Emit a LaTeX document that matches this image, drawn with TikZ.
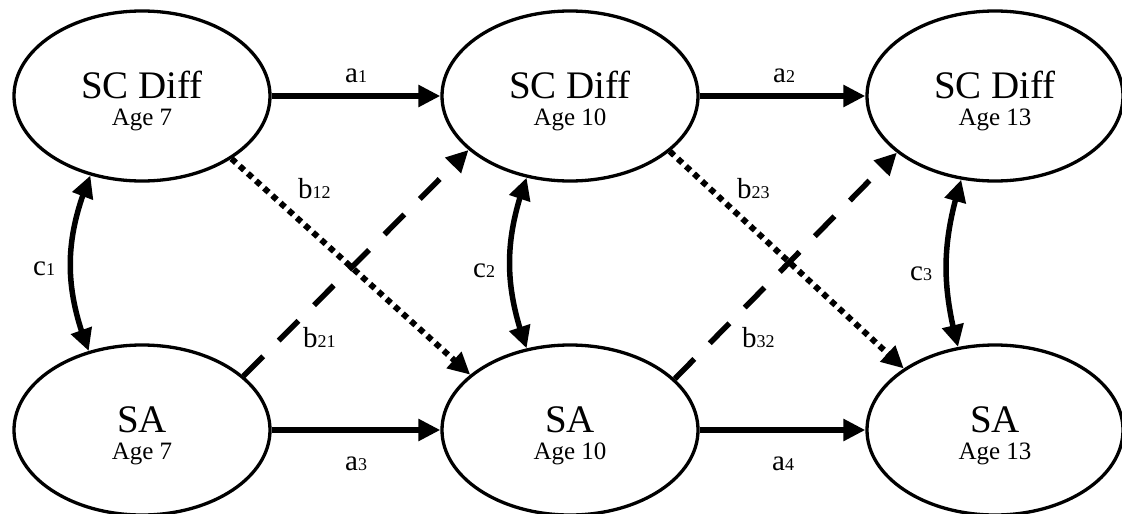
\documentclass[tikz,border=0pt]{standalone}
\usepackage{fontspec}
\setmainfont{Liberation Serif}
\usetikzlibrary{shapes.geometric,arrows.meta,bending}
\newcommand\lab[2]{{\fontsize{29}{29}\selectfont #1}{\fontsize{18}{18}\selectfont #2}}
\newcommand\vtext[2]{\fontsize{39}{39}\selectfont\rule{0pt}{37pt}#1\\[9pt]\fontsize{25}{25}\selectfont #2}
\begin{document}
\begin{tikzpicture}[x=1pt,y=-1pt,
  var/.style={ellipse,draw,line width=3.3pt,minimum width=256pt,minimum height=170pt,inner sep=0pt,align=center},
  solidarr/.style={-{Triangle[length=22pt,width=21pt]},line width=5.5pt},
  dotarr/.style={solidarr,line width=6pt,dash pattern=on 6pt off 5pt},
  dasharr/.style={solidarr,dash pattern=on 28pt off 22pt},
  corr/.style={{Triangle[length=22pt,width=21pt]}-{Triangle[length=22pt,width=21pt]},line width=5.5pt},
  lbl/.style={anchor=base west,inner sep=0pt}]
\useasboundingbox (0,0) rectangle (1122,514);
\node[var] (sc7)  at (142,96)  {\vtext{SC Diff}{Age 7}};
\node[var] (sc10) at (570,96)  {\vtext{SC Diff}{Age 10}};
\node[var] (sc13) at (995,96)  {\vtext{SC Diff}{Age 13}};
\node[var] (sa7)  at (142,430) {\vtext{SA}{Age 7}};
\node[var] (sa10) at (570,430) {\vtext{SA}{Age 10}};
\node[var] (sa13) at (995,430) {\vtext{SA}{Age 13}};
% stability paths
\draw[solidarr] (sc7) -- (sc10);
\draw[solidarr] (sc10) -- (sc13);
\draw[solidarr] (sa7) -- (sa10);
\draw[solidarr] (sa10) -- (sa13);
% cross-lagged
\draw[dotarr] (sc7.-35) -- (sa10.151);
\draw[dasharr] (sa7.28) -- (sc10.208);
\draw[dotarr] (sc10.-29) -- (sa13.146);
\draw[dasharr] (sa10.26) -- (sc13.210);
% correlations
\draw[corr] (sc7.237) to[bend right=22] (sa7.124);
\draw[corr] (sc10.242) to[bend right=20] (sa10.118);
\draw[corr] (sc13.248) to[bend right=16] (sa13.114);
% labels
\node[lbl] (la1) at (345,82) {\lab{a}{1}};
\node[lbl] (la2) at (773,82) {\lab{a}{2}};
\node[lbl] (la3) at (345,470) {\lab{a}{3}};
\node[lbl] (la4) at (772,470) {\lab{a}{4}};
\node[lbl] (lb12) at (298,198) {\lab{b}{12}};
\node[lbl] (lb21) at (303,347) {\lab{b}{21}};
\node[lbl] (lb23) at (737,198) {\lab{b}{23}};
\node[lbl] (lb32) at (742,347) {\lab{b}{32}};
\node[lbl] (lc1) at (33,275) {\lab{c}{1}};
\node[lbl] (lc2) at (473,277) {\lab{c}{2}};
\node[lbl] (lc3) at (910,280) {\lab{c}{3}};
\end{tikzpicture}
\end{document}
